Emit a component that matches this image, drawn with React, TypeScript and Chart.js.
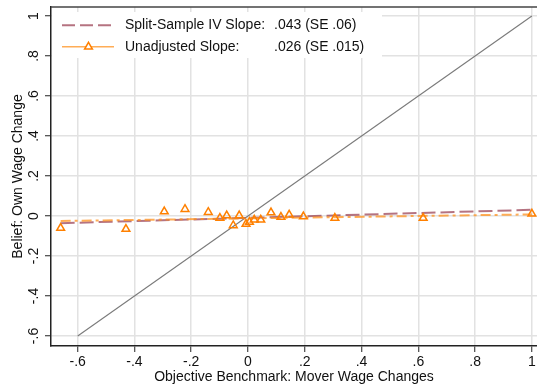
import React, { useEffect, useRef } from "react";
import { Chart, registerables } from "chart.js";

Chart.register(...registerables);

// ---- data ----
const benchmarkX = [-0.66, -0.43, -0.295, -0.222, -0.14, -0.099, -0.075, -0.052, -0.031, -0.007, 0.005, 0.022, 0.045, 0.081, 0.116, 0.145, 0.195, 0.306, 0.617, 1.0];
const beliefY = [-0.06, -0.065, 0.022, 0.034, 0.019, -0.01, 0.002, -0.047, 0.002, -0.04, -0.03, -0.019, -0.019, 0.017, -0.005, 0.006, -0.003, -0.01, -0.01, 0.011];

const diagonalX = [-0.6, 1.0];
const diagonalY = [-0.6, 1.0];

const ivLineX = [-0.66, 1.0];
const ivLineY = [-0.036, 0.031];

const olsLineX = [-0.66, 1.0];
const olsLineY = [-0.025, 0.008];

const xTickValues = [-0.6, -0.4, -0.2, 0, 0.2, 0.4, 0.6, 0.8, 1];
const xTickLabels = ["-.6", "-.4", "-.2", "0", ".2", ".4", ".6", ".8", "1"];
const yTickValues = [-0.6, -0.4, -0.2, 0, 0.2, 0.4, 0.6, 0.8, 1];
const yTickLabels = ["-.6", "-.4", "-.2", "0", ".2", ".4", ".6", ".8", "1"];

const legendNames = ["Split-Sample IV Slope:", "Unadjusted Slope:"];
const legendValues = [".043 (SE .06)", ".026 (SE .015)"];

const xTitle = "Objective Benchmark: Mover Wage Changes";
const yTitle = "Belief: Own Wage Change";

const FONT = "'Liberation Sans', Arial, Helvetica, sans-serif";
const TEXT = "#111111";
const GRID = "#e2e2e2";
const AXIS = "#222222";
const IV_COLOR = "rgba(150,55,75,0.7)";
const OLS_COLOR = "rgba(255,145,30,0.75)";
const MARKER = "#ff8000";

const toPts = (xs: number[], ys: number[]) => xs.map((x, i) => ({ x, y: ys[i] }));

const zeroPad = (s: any) => {
  s.paddingLeft = 0;
  s.paddingRight = 0;
  s.paddingTop = 0;
  s.paddingBottom = 0;
};

export default function App() {
  const ref = useRef<HTMLCanvasElement | null>(null);

  useEffect(() => {
    document.body.style.margin = "0";
    const canvas = ref.current;
    if (!canvas) return;

    const overlay = {
      id: "stataOverlay",
      afterDatasetsDraw(chart: any) {
        const ctx = chart.ctx;
        const area = chart.chartArea;
        // top border
        ctx.save();
        ctx.strokeStyle = "#444";
        ctx.lineWidth = 1.5;
        ctx.beginPath();
        ctx.moveTo(area.left, area.top);
        ctx.lineTo(area.right, area.top);
        ctx.stroke();

        // legend box
        ctx.fillStyle = "#ffffff";
        ctx.fillRect(area.left + 1, area.top + 5, 330, 46);

        const rows = [25.2, 46.8];
        // row 1: dashed IV line
        ctx.strokeStyle = IV_COLOR;
        ctx.lineWidth = 2;
        ctx.setLineDash([13, 5]);
        ctx.beginPath();
        ctx.moveTo(62, rows[0]);
        ctx.lineTo(114, rows[0]);
        ctx.stroke();
        ctx.setLineDash([]);
        // row 2: orange line with triangle
        ctx.strokeStyle = OLS_COLOR;
        ctx.lineWidth = 1.5;
        ctx.beginPath();
        ctx.moveTo(62, rows[1]);
        ctx.lineTo(114, rows[1]);
        ctx.stroke();
        const r = 4.5;
        const cx = 88.5;
        const cy = rows[1];
        ctx.fillStyle = "#ffffff";
        ctx.strokeStyle = MARKER;
        ctx.lineWidth = 1.5;
        ctx.beginPath();
        for (let k = 0; k < 3; k++) {
          const a = (k * 2 * Math.PI) / 3;
          const px = cx + Math.sin(a) * r;
          const py = cy - Math.cos(a) * r;
          if (k === 0) ctx.moveTo(px, py);
          else ctx.lineTo(px, py);
        }
        ctx.closePath();
        ctx.fill();
        ctx.stroke();

        ctx.fillStyle = TEXT;
        ctx.font = `14px ${FONT}`;
        ctx.textAlign = "left";
        ctx.textBaseline = "middle";
        legendNames.forEach((t, i) => ctx.fillText(t, 125, rows[i]));
        legendValues.forEach((t, i) => ctx.fillText(t, 274, rows[i]));
        ctx.restore();
      },
      afterDraw(chart: any) {
        const ctx = chart.ctx;
        const ys = chart.scales.y;
        ctx.save();
        ctx.fillStyle = TEXT;
        ctx.font = `14px ${FONT}`;
        ctx.textAlign = "center";
        ctx.textBaseline = "middle";
        yTickValues.forEach((v, i) => {
          const py = ys.getPixelForValue(v);
          ctx.save();
          ctx.translate(34, py);
          ctx.rotate(-Math.PI / 2);
          ctx.fillText(yTickLabels[i], 0, 0);
          ctx.restore();
        });
        ctx.restore();
      },
    };

    const chart = new Chart(canvas, {
      type: "scatter",
      data: {
        datasets: [
          {
            label: "Beliefs",
            data: toPts(benchmarkX, beliefY),
            showLine: false,
            pointStyle: "triangle",
            pointRadius: 4.5,
            borderColor: MARKER,
            backgroundColor: "rgba(255,255,255,0)",
            borderWidth: 1.5,
            clip: false,
          },
          {
            label: "Unadjusted",
            data: toPts(olsLineX, olsLineY),
            showLine: true,
            pointRadius: 0,
            borderColor: OLS_COLOR,
            borderWidth: 2,
            borderDash: [10, 4, 3, 4],
          },
          {
            label: "IV",
            data: toPts(ivLineX, ivLineY),
            showLine: true,
            pointRadius: 0,
            borderColor: IV_COLOR,
            borderWidth: 2,
            borderDash: [14, 5],
          },
          {
            label: "45 degree",
            data: toPts(diagonalX, diagonalY),
            showLine: true,
            pointRadius: 0,
            borderColor: "#7a7a7a",
            borderWidth: 1.1,
          },
        ],
      },
      options: {
        responsive: false,
        animation: false,
        events: [],
        layout: { autoPadding: false, padding: { top: 7, left: 0, right: 0, bottom: 0 } },
        plugins: {
          legend: { display: false },
          tooltip: { enabled: false },
          title: { display: false },
        },
        scales: {
          x: {
            type: "linear",
            min: -0.694,
            max: 1.018,
            afterBuildTicks: (s: any) => {
              s.ticks = xTickValues.map((v) => ({ value: v }));
            },
            afterFit: (s: any) => {
              s.height = 40;
              zeroPad(s);
            },
            ticks: {
              callback: (v: any) => {
                const i = xTickValues.findIndex((t) => Math.abs(t - Number(v)) < 1e-6);
                return i >= 0 ? xTickLabels[i] : "";
              },
              font: { size: 14, family: FONT },
              color: TEXT,
              padding: 2,
              maxRotation: 0,
              minRotation: 0,
              autoSkip: false,
            },
            grid: {
              color: GRID,
              lineWidth: 1.5,
              tickLength: 6,
              tickColor: AXIS,
              tickWidth: 1,
            },
            border: { color: AXIS, width: 1.5 },
            title: {
              display: true,
              text: xTitle,
              font: { size: 14, family: FONT },
              color: TEXT,
              padding: { top: 0, bottom: 0 },
            },
          },
          y: {
            type: "linear",
            min: -0.65,
            max: 1.045,
            afterBuildTicks: (s: any) => {
              s.ticks = yTickValues.map((v) => ({ value: v }));
            },
            afterFit: (s: any) => {
              s.width = 51;
              zeroPad(s);
            },
            ticks: { display: false },
            grid: {
              color: GRID,
              lineWidth: 1.5,
              tickLength: 6,
              tickColor: AXIS,
              tickWidth: 1,
            },
            border: { color: AXIS, width: 1.5 },
            title: {
              display: true,
              text: yTitle,
              font: { size: 14, family: FONT },
              color: TEXT,
              padding: { top: 9.6, bottom: 0 },
            },
          },
        },
      },
      plugins: [overlay],
    });

    return () => chart.destroy();
  }, []);

  return <canvas ref={ref} width={537} height={386} style={{ display: "block" }} />;
}
